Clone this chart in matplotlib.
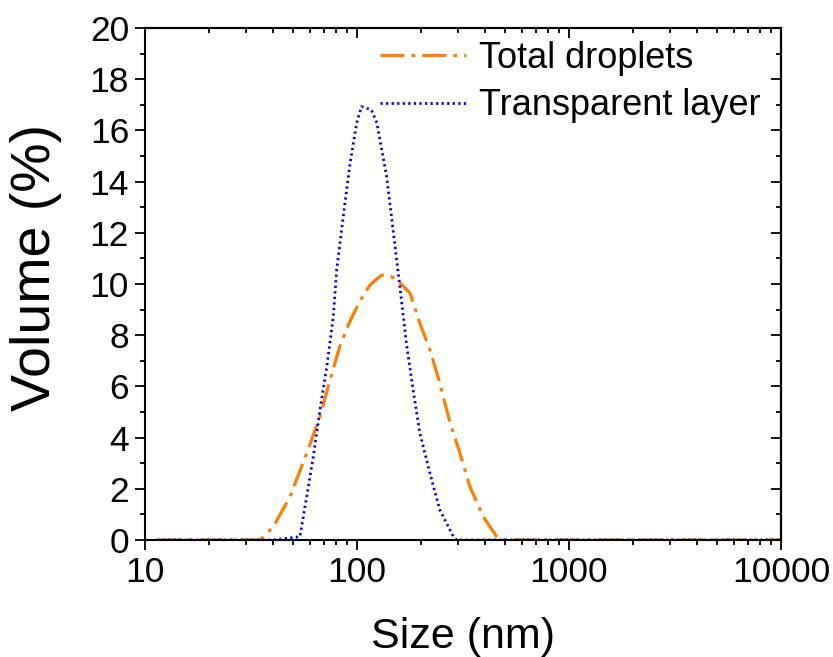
import numpy as np
import matplotlib.pyplot as plt
from matplotlib.ticker import LogLocator, MultipleLocator, NullFormatter, FixedLocator, FixedFormatter

plt.rcParams['font.family'] = ['Liberation Sans', 'DejaVu Sans']

# total droplets (orange)
size_total = [11.4, 20, 30, 34.9, 40.3, 48.3, 57.9, 66.9, 74.6, 83.2, 92.7, 100, 107, 115, 124, 131,
              145, 160, 178, 198, 221, 246, 275, 306, 341, 394, 456, 473, 600, 1000, 3000, 10000]
vol_total = [0, 0, 0, 0, 0.52, 1.69, 3.39, 4.82, 6.25, 7.6, 8.55, 9.1, 9.55, 9.95, 10.2, 10.35,
             10.3, 10.03, 9.64, 8.46, 7.42, 6.12, 4.56, 3.39, 2.08, 0.91, 0.13, 0, 0, 0, 0, 0]

# transparent layer (blue)
size_trans = [11.4, 20, 40, 53.8, 57.9, 62.2, 66.9, 72, 77.3, 80.2, 86.1, 92.7, 99.7, 105, 117,
              124, 138, 148, 160, 171, 184, 198, 221, 246, 285, 295, 500, 1000, 3000, 10000]
vol_trans = [0, 0, 0, 0.13, 1.69, 3.25, 5.08, 6.77, 8.72, 10.55, 12.63, 14.7, 16.3, 16.93, 16.8,
             16.3, 14.2, 12.1, 9.77, 7.68, 5.86, 4.17, 2.6, 1.17, 0.13, 0, 0, 0, 0, 0]

fig = plt.figure(figsize=(8.33, 6.57), dpi=100)
ax = fig.add_axes([145/833, 1-540/657, (781-145)/833, (540-28)/657])

ax.plot(size_total, vol_total, color='#FF7F00', lw=2.3, dashes=(7.5, 2.2, 1.2, 2.2), label='Total droplets')
ax.plot(size_trans, vol_trans, color='#0000FF', lw=2, dashes=(0.8, 1.2), label='Transparent layer')

ax.set_xscale('log')
ax.set_xlim(10, 10000)
ax.set_ylim(0, 20)
ax.xaxis.set_major_locator(FixedLocator([10, 100, 1000, 10000]))
ax.xaxis.set_major_formatter(FixedFormatter(['10', '100', '1000', '10000']))
ax.xaxis.set_minor_locator(LogLocator(base=10, subs=np.arange(2, 10)))
ax.xaxis.set_minor_formatter(NullFormatter())
ax.yaxis.set_major_locator(MultipleLocator(2))
ax.yaxis.set_minor_locator(MultipleLocator(1))

ax.tick_params(which='both', direction='out', width=1.3, labelsize=25.5, pad=4)
ax.tick_params(which='major', length=7.5)
ax.tick_params(which='minor', length=3.5)
# mirror ticks on top/right pointing inward
sec_x = ax.secondary_xaxis('top')
sec_x.xaxis.set_major_locator(FixedLocator([10, 100, 1000, 10000]))
sec_x.xaxis.set_minor_locator(LogLocator(base=10, subs=np.arange(2, 10)))
sec_x.tick_params(which='both', direction='in', width=1.3, labeltop=False)
sec_x.tick_params(which='major', length=7)
sec_x.tick_params(which='minor', length=3.5)
sec_y = ax.secondary_yaxis('right')
sec_y.yaxis.set_major_locator(MultipleLocator(2))
sec_y.yaxis.set_minor_locator(MultipleLocator(1))
sec_y.tick_params(which='both', direction='in', width=1.3, labelright=False)
sec_y.tick_params(which='major', length=7)
sec_y.tick_params(which='minor', length=3.5)
for sp in list(ax.spines.values()):
    sp.set_linewidth(1.5)
sec_x.spines['top'].set_linewidth(1.5)
sec_y.spines['right'].set_linewidth(1.5)

ax.set_xlabel('Size (nm)', fontsize=31, labelpad=20)
ax.set_ylabel('Volume (%)', fontsize=40)
ax.yaxis.set_label_coords(-0.13, 0.533)

ax.legend(loc='upper left', bbox_to_anchor=(0.369, 0.975), frameon=False, fontsize=26,
          handlelength=2.4, handletextpad=0.35, labelspacing=0.35, borderpad=0, borderaxespad=0)

fig.savefig('out.png', dpi=100)
